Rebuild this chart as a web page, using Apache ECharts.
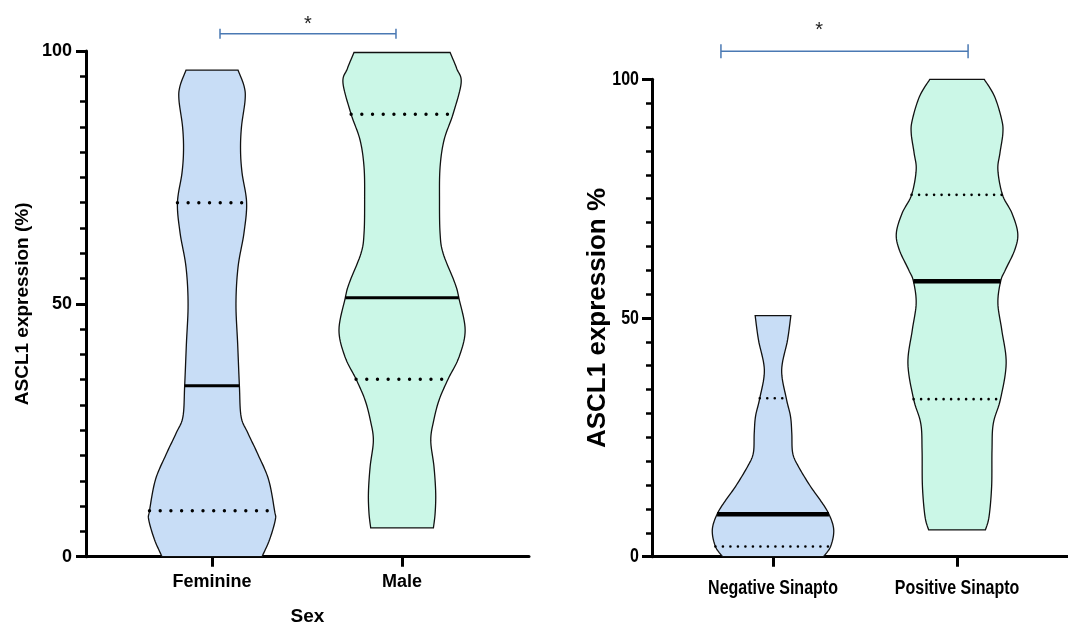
<!DOCTYPE html>
<html>
<head>
<meta charset="utf-8">
<script src="https://cdn.jsdelivr.net/npm/echarts@6/dist/echarts.min.js"></script>
<style>
html, body { margin: 0; padding: 0; background: #fff; }
#chart { width: 1068px; height: 626px; }
</style>
</head>
<body>
<div id="chart"></div>
<script>
// ---- Panel A: ASCL1 expression by sex ----
const sexCategories = ['Feminine', 'Male'];
// violin outlines, top to bottom: [ASCL1 %, half-width in category units]
const feminineViolin = [[96.2,0.137],[93,0.169],[90.3,0.174],[85,0.155],[80.4,0.150],[75.9,0.158],[70,0.182],[64,0.168],[57.3,0.137],[50,0.126],[42,0.135],[33.8,0.144],[27.7,0.153],[24.5,0.188],[20.2,0.242],[15.2,0.298],[9.1,0.329],[7.3,0.333],[3.4,0.303],[0,0.263]];
const maleViolin = [[99.7,0.253],[96.5,0.288],[93.7,0.311],[87.5,0.268],[82.4,0.221],[77,0.200],[70.6,0.197],[64,0.200],[60,0.216],[54,0.279],[51,0.300],[44.8,0.332],[39.5,0.300],[35.1,0.242],[31,0.195],[27,0.167],[23,0.151],[17.8,0.168],[12.6,0.177],[8.6,0.174],[5.7,0.165]];
// [first quartile, median, third quartile]
const feminineQuartiles = [9.1, 33.8, 70.0];
const maleQuartiles = [35.1, 51.2, 87.5];
// comparison bracket: [from, to, height], star: [x, height]
const sexBracket = [1.042, 1.968, 103.4];
const sexStar = [1.505, 105.3];

// ---- Panel B: ASCL1 expression by synaptophysin status ----
const sinaptoCategories = ['Negative Sinapto', 'Positive Sinapto'];
const negativeViolin = [[50.5,0.097],[45.4,0.079],[39.1,0.047],[33.2,0.072],[29.4,0.095],[25.9,0.102],[21.7,0.107],[18.9,0.138],[14.7,0.204],[11.9,0.256],[8.9,0.304],[5.6,0.330],[2.15,0.313],[0,0.274]];
const positiveViolin = [[100,0.148],[96.4,0.204],[91.5,0.243],[88.7,0.249],[84.5,0.233],[81,0.222],[75.8,0.247],[71.9,0.299],[67.7,0.330],[64.2,0.313],[60.1,0.263],[57.7,0.237],[53.1,0.222],[47.5,0.243],[40.5,0.267],[33,0.236],[27.9,0.197],[22.3,0.190],[14.7,0.188],[8.4,0.174],[5.6,0.154]];
const negativeQuartiles = [2.15, 8.9, 33.2];
const positiveQuartiles = [33.0, 57.7, 75.8];
const sinaptoBracket = [0.717, 2.06, 105.9];
const sinaptoStar = [1.25, 110.3];

const yTicks = [0, 50, 100];

const BLUE = '#c8ddf6';
const GREEN = '#cbf7e7';
const INK = '#111';
const BRACKET = '#4a79b3';
const ARIAL = '"Liberation Sans", Arial, sans-serif';

// Catmull-Rom smoothing through pixel points
function smooth(pts, steps) {
  const out = [];
  for (let i = 0; i < pts.length - 1; i++) {
    const p0 = pts[Math.max(i - 1, 0)], p1 = pts[i], p2 = pts[i + 1], p3 = pts[Math.min(i + 2, pts.length - 1)];
    for (let s = 0; s < steps; s++) {
      const t = s / steps, t2 = t * t, t3 = t2 * t;
      const f = (a, b, c, d) => 0.5 * ((2 * b) + (-a + c) * t + (2 * a - 5 * b + 4 * c - d) * t2 + (-a + 3 * b - 3 * c + d) * t3);
      out.push([f(p0[0], p1[0], p2[0], p3[0]), f(p0[1], p1[1], p2[1], p3[1])]);
    }
  }
  out.push(pts[pts.length - 1].slice());
  return out;
}

// x offset from centre at a given pixel y on a smoothed side
function offsetAt(side, cx, y) {
  for (let i = 0; i < side.length - 1; i++) {
    const a = side[i], b = side[i + 1];
    if ((y - a[1]) * (y - b[1]) <= 0 && a[1] !== b[1]) {
      const t = (y - a[1]) / (b[1] - a[1]);
      return Math.abs(a[0] + t * (b[0] - a[0]) - cx);
    }
  }
  return 0;
}

function violinSeries(gridIdx, violins, quartiles, colors, medianWidth, dotGap, dotSize) {
  return {
    type: 'custom',
    xAxisIndex: gridIdx,
    yAxisIndex: gridIdx,
    data: violins.map((v, i) => [i + 1, v[v.length - 1][0], v[0][0]]),
    encode: { x: 0, y: [1, 2] },
    renderItem: function (params, api) {
      const i = params.dataIndex;
      const pos = api.value(0);
      const outline = violins[i];
      const cx = api.coord([pos, 0])[0];
      const right = smooth(outline.map(d => api.coord([pos + d[1], d[0]])), 10);
      const left = smooth(outline.map(d => api.coord([pos - d[1], d[0]])), 10);
      const poly = right.concat(left.slice().reverse());
      const children = [{
        type: 'polygon',
        shape: { points: poly },
        style: { fill: colors[i], stroke: INK, lineWidth: 1.3 }
      }];
      quartiles[i].forEach((q, k) => {
        const y = api.coord([pos, q])[1];
        const w = offsetAt(right, cx, y);
        const isMedian = k === 1;
        children.push({
          type: 'line',
          shape: { x1: cx - w, y1: y, x2: cx + w, y2: y },
          style: isMedian
            ? { stroke: '#000', lineWidth: medianWidth }
            : { stroke: '#000', lineWidth: dotSize, lineDash: [0, dotGap], lineCap: 'round' }
        });
      });
      return { type: 'group', children: children };
    },
    z: 3
  };
}

function bracketSeries(gridIdx, bracket, star, cap, starSize) {
  return {
    type: 'custom',
    xAxisIndex: gridIdx,
    yAxisIndex: gridIdx,
    clip: false,
    data: [[bracket[0], bracket[1], bracket[2], star[0], star[1]]],
    renderItem: function (params, api) {
      const a = api.coord([api.value(0), api.value(2)]);
      const b = api.coord([api.value(1), api.value(2)]);
      const s = api.coord([api.value(3), api.value(4)]);
      const st = { stroke: BRACKET, lineWidth: 1.5 };
      return {
        type: 'group',
        children: [
          { type: 'line', shape: { x1: a[0], y1: a[1], x2: b[0], y2: b[1] }, style: st },
          { type: 'line', shape: { x1: a[0], y1: a[1] - cap, x2: a[0], y2: a[1] + cap }, style: st },
          { type: 'line', shape: { x1: b[0], y1: b[1] - cap, x2: b[0], y2: b[1] + cap }, style: st },
          { type: 'text', x: s[0], y: s[1], style: { text: '*', fill: '#222', fontSize: starSize, fontFamily: ARIAL, align: 'center', verticalAlign: 'middle' } }
        ]
      };
    },
    z: 4
  };
}

// condensed bold labels (axis tick values and category names) for panel B
function narrowLabelSeries(gridIdx, xMin, categories) {
  const items = yTicks.map(v => [xMin, v, String(v), 0])
    .concat(categories.map((c, i) => [i + 1, 0, c, 1]));
  return {
    type: 'custom',
    xAxisIndex: gridIdx,
    yAxisIndex: gridIdx,
    clip: false,
    silent: true,
    data: items,
    renderItem: function (params, api) {
      const it = items[params.dataIndex];
      const p = api.coord([it[0], it[1]]);
      const isCat = it[3] === 1;
      return {
        type: 'text',
        x: isCat ? p[0] : p[0] - 13,
        y: isCat ? p[1] + 32 : p[1],
        scaleX: 0.8,
        style: {
          text: it[2], fill: '#000', fontWeight: 'bold', fontFamily: ARIAL, fontSize: 20,
          align: isCat ? 'center' : 'right', verticalAlign: 'middle'
        }
      };
    },
    z: 5
  };
}

function yAxis(gridIdx, showLabel, labelSize, labelMargin, name, nameSize, nameGap) {
  return {
    type: 'value', gridIndex: gridIdx, min: 0, max: 100, interval: 50,
    axisLine: { show: true, onZero: false, lineStyle: { color: '#000', width: 3 } },
    axisTick: { show: true, length: 10, lineStyle: { color: '#000', width: 3 } },
    minorTick: { show: true, splitNumber: 10, length: 6, lineStyle: { color: '#000', width: 2.5 } },
    splitLine: { show: false },
    minorSplitLine: { show: false },
    axisLabel: { show: showLabel, color: '#000', fontWeight: 'bold', fontFamily: ARIAL, fontSize: labelSize, margin: labelMargin, customValues: yTicks },
    name: name, nameLocation: 'middle', nameGap: nameGap,
    nameTextStyle: { color: '#000', fontWeight: 'bold', fontFamily: ARIAL, fontSize: nameSize }
  };
}

function xAxis(gridIdx, min, max, categories, showLabel, labelSize, labelMargin, name) {
  return {
    type: 'value', gridIndex: gridIdx, min: min, max: max,
    axisLine: { show: true, onZero: false, lineStyle: { color: '#000', width: 3 } },
    axisTick: { show: true, length: 10, customValues: [1, 2], lineStyle: { color: '#000', width: 3 } },
    splitLine: { show: false },
    axisLabel: {
      show: showLabel, color: '#000', fontWeight: 'bold', fontFamily: ARIAL, fontSize: labelSize, margin: labelMargin,
      customValues: [1, 2], formatter: v => categories[Math.round(v) - 1]
    },
    name: name, nameLocation: 'middle', nameGap: 51,
    nameTextStyle: { color: '#000', fontWeight: 'bold', fontFamily: ARIAL, fontSize: 19 }
  };
}

const X_MIN_B = 0.3424;

const chart = echarts.init(document.getElementById('chart'), null, { renderer: 'canvas' });
chart.setOption({
  animation: false,
  backgroundColor: '#fff',
  grid: [
    { left: 86, top: 51, width: 443, height: 505.7, outerBoundsMode: 'none', containLabel: false },
    { left: 652, top: 79.3, width: 416, height: 477.4, outerBoundsMode: 'none', containLabel: false }
  ],
  xAxis: [
    xAxis(0, 0.3368, 2.668, sexCategories, true, 18, 16, 'Sex'),
    xAxis(1, X_MIN_B, 2.603, sinaptoCategories, false, 20, 18, '')
  ],
  yAxis: [
    yAxis(0, true, 18, 14, 'ASCL1 expression (%)', 19, 54),
    yAxis(1, false, 20, 13, 'ASCL1 expression %', 26, 41)
  ],
  series: [
    violinSeries(0, [feminineViolin, maleViolin], [feminineQuartiles, maleQuartiles], [BLUE, GREEN], 3, 10.7, 3.4),
    violinSeries(1, [negativeViolin, positiveViolin], [negativeQuartiles, positiveQuartiles], [BLUE, GREEN], 4.5, 7.5, 2.6),
    bracketSeries(0, sexBracket, sexStar, 5, 20),
    bracketSeries(1, sinaptoBracket, sinaptoStar, 7, 20),
    narrowLabelSeries(1, X_MIN_B, sinaptoCategories)
  ]
});
</script>
</body>
</html>
